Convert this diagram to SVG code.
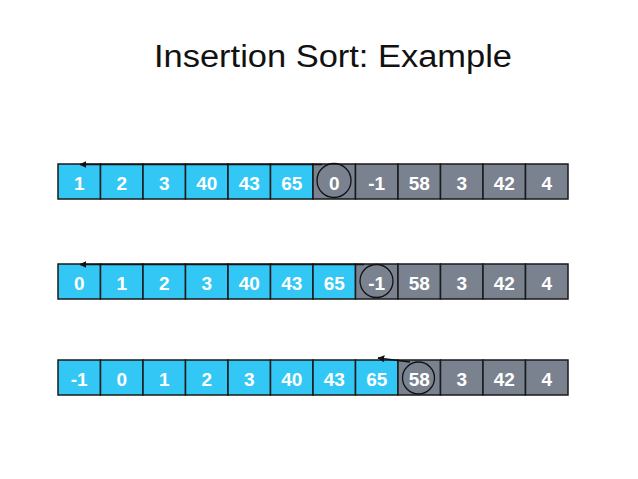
<svg xmlns="http://www.w3.org/2000/svg" width="638" height="479" viewBox="0 0 638 479">
<defs>
<style>
.b{fill:#33C7F5;stroke:#1a1a1a;stroke-width:1.5}
.g{fill:#7A8290;stroke:#1a1a1a;stroke-width:1.5}
.t{font-family:"Liberation Sans",Arial,sans-serif;font-weight:bold;font-size:19px;fill:#ffffff;text-anchor:middle}
.c{fill:none;stroke:#111;stroke-width:1.3}
.l{fill:none;stroke:#111;stroke-width:1.5}
</style>
<marker id="ah" viewBox="0 0 10 10" refX="9" refY="5" markerWidth="7" markerHeight="7" orient="auto" markerUnits="userSpaceOnUse">
<path d="M0,0 L10,5 L0,10 z" fill="#111"/>
</marker>
</defs>
<rect width="638" height="479" fill="#ffffff"/>
<text x="333" y="67" font-family="'Liberation Sans',Arial,sans-serif" font-size="31" fill="#111" text-anchor="middle" textLength="358" lengthAdjust="spacingAndGlyphs">Insertion Sort: Example</text>

<g id="row1">
<rect class="b" x="58" y="164" width="42.5" height="35"/><text class="t" x="79.25" y="190">1</text>
<rect class="b" x="100.5" y="164" width="42.5" height="35"/><text class="t" x="121.75" y="190">2</text>
<rect class="b" x="143" y="164" width="42.5" height="35"/><text class="t" x="164.25" y="190">3</text>
<rect class="b" x="185.5" y="164" width="42.5" height="35"/><text class="t" x="206.75" y="190">40</text>
<rect class="b" x="228" y="164" width="42.5" height="35"/><text class="t" x="249.25" y="190">43</text>
<rect class="b" x="270.5" y="164" width="42.5" height="35"/><text class="t" x="291.75" y="190">65</text>
<rect class="g" x="313" y="164" width="42.5" height="35"/><text class="t" x="334.25" y="190">0</text>
<rect class="g" x="355.5" y="164" width="42.5" height="35"/><text class="t" x="376.75" y="190">-1</text>
<rect class="g" x="398" y="164" width="42.5" height="35"/><text class="t" x="419.25" y="190">58</text>
<rect class="g" x="440.5" y="164" width="42.5" height="35"/><text class="t" x="461.75" y="190">3</text>
<rect class="g" x="483" y="164" width="42.5" height="35"/><text class="t" x="504.25" y="190">42</text>
<rect class="g" x="525.5" y="164" width="42.5" height="35"/><text class="t" x="546.75" y="190">4</text>
<circle class="c" cx="334" cy="180.5" r="17"/>
</g>

<g id="row2">
<rect class="b" x="58" y="264" width="42.5" height="35"/><text class="t" x="79.25" y="290">0</text>
<rect class="b" x="100.5" y="264" width="42.5" height="35"/><text class="t" x="121.75" y="290">1</text>
<rect class="b" x="143" y="264" width="42.5" height="35"/><text class="t" x="164.25" y="290">2</text>
<rect class="b" x="185.5" y="264" width="42.5" height="35"/><text class="t" x="206.75" y="290">3</text>
<rect class="b" x="228" y="264" width="42.5" height="35"/><text class="t" x="249.25" y="290">40</text>
<rect class="b" x="270.5" y="264" width="42.5" height="35"/><text class="t" x="291.75" y="290">43</text>
<rect class="b" x="313" y="264" width="42.5" height="35"/><text class="t" x="334.25" y="290">65</text>
<rect class="g" x="355.5" y="264" width="42.5" height="35"/><text class="t" x="376.75" y="290">-1</text>
<rect class="g" x="398" y="264" width="42.5" height="35"/><text class="t" x="419.25" y="290">58</text>
<rect class="g" x="440.5" y="264" width="42.5" height="35"/><text class="t" x="461.75" y="290">3</text>
<rect class="g" x="483" y="264" width="42.5" height="35"/><text class="t" x="504.25" y="290">42</text>
<rect class="g" x="525.5" y="264" width="42.5" height="35"/><text class="t" x="546.75" y="290">4</text>
<circle class="c" cx="376.5" cy="281" r="16.5"/>
</g>

<g id="row3">
<rect class="b" x="58" y="360" width="42.5" height="35"/><text class="t" x="79.25" y="386">-1</text>
<rect class="b" x="100.5" y="360" width="42.5" height="35"/><text class="t" x="121.75" y="386">0</text>
<rect class="b" x="143" y="360" width="42.5" height="35"/><text class="t" x="164.25" y="386">1</text>
<rect class="b" x="185.5" y="360" width="42.5" height="35"/><text class="t" x="206.75" y="386">2</text>
<rect class="b" x="228" y="360" width="42.5" height="35"/><text class="t" x="249.25" y="386">3</text>
<rect class="b" x="270.5" y="360" width="42.5" height="35"/><text class="t" x="291.75" y="386">40</text>
<rect class="b" x="313" y="360" width="42.5" height="35"/><text class="t" x="334.25" y="386">43</text>
<rect class="b" x="355.5" y="360" width="42.5" height="35"/><text class="t" x="376.75" y="386">65</text>
<rect class="g" x="398" y="360" width="42.5" height="35"/><text class="t" x="419.25" y="386">58</text>
<rect class="g" x="440.5" y="360" width="42.5" height="35"/><text class="t" x="461.75" y="386">3</text>
<rect class="g" x="483" y="360" width="42.5" height="35"/><text class="t" x="504.25" y="386">42</text>
<rect class="g" x="525.5" y="360" width="42.5" height="35"/><text class="t" x="546.75" y="386">4</text>
<circle class="c" cx="418.5" cy="378" r="16"/>
</g>

<g id="connectors">
<path class="l" d="M322,164.5 L80,164.5" marker-end="url(#ah)"/>
<path class="l" d="M364,264.5 L80,264.5" marker-end="url(#ah)"/>
<path class="l" d="M410,362 L378,358" marker-end="url(#ah)"/>
</g>
</svg>
